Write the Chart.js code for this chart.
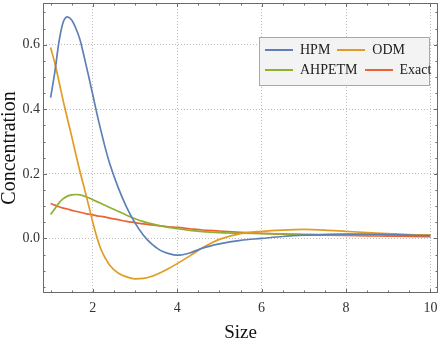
<!DOCTYPE html>
<html>
<head>
<meta charset="utf-8">
<script src="https://cdn.jsdelivr.net/npm/chart.js@4.4.1/dist/chart.umd.min.js"></script>
<style>
  html, body { margin: 0; padding: 0; background: #fff; }
  #wrap { position: relative; width: 442px; height: 343px; }
  #legend {
    position: absolute; left: 259px; top: 37px; width: 169px; height: 47px;
    background: #f3f3f3; border: 1px solid #a8a8a8;
    font-family: 'Liberation Serif', 'Times New Roman', serif; font-size: 14px; color: #222;
  }
  #legend .row { position: absolute; left: 5px; display: flex; align-items: center; height: 16px; }
  #legend .swatch { width: 28px; height: 2px; margin-right: 7px; }
  #legend .label { margin-right: 7px; }
</style>
</head>
<body>
<div id="wrap">
  <canvas id="chart"></canvas>
  <div id="legend"></div>
</div>
<script>
// values
const sizes = [1, 1.1, 1.2, 1.3, 1.4, 1.5, 1.6, 1.7, 1.8, 1.9, 2.0, 2.1, 2.2, 2.3, 2.4, 2.6, 2.8,
  3.0, 3.2, 3.4, 3.6, 3.8, 4.0, 4.3, 4.6, 5.0, 5.5, 6.0, 6.5, 7.0, 7.5, 8.0, 8.5, 9.0, 9.5, 10];

const hpm = [0.436, 0.515, 0.610, 0.670, 0.686, 0.676, 0.650, 0.614, 0.560, 0.503, 0.445, 0.385, 0.330,
  0.278, 0.232, 0.158, 0.097, 0.048, 0.010, -0.018, -0.037, -0.047, -0.052, -0.045, -0.030, -0.017,
  -0.006, 0.000, 0.006, 0.010, 0.012, 0.013, 0.013, 0.012, 0.010, 0.0085];

const odm = [0.591, 0.543, 0.485, 0.425, 0.370, 0.316, 0.259, 0.205, 0.155, 0.103, 0.050, 0.002, -0.036,
  -0.062, -0.083, -0.107, -0.119, -0.125, -0.124, -0.117, -0.106, -0.093, -0.078, -0.054, -0.029, -0.003,
  0.015, 0.022, 0.026, 0.028, 0.026, 0.022, 0.018, 0.015, 0.012, 0.0105];

const ahpetm = [0.074, 0.092, 0.110, 0.123, 0.131, 0.135, 0.136, 0.135, 0.131, 0.126, 0.120, 0.114, 0.108,
  0.102, 0.096, 0.084, 0.072, 0.061, 0.052, 0.045, 0.039, 0.034, 0.030, 0.025, 0.021, 0.018,
  0.016, 0.015, 0.014, 0.013, 0.012, 0.012, 0.011, 0.011, 0.010, 0.010];

const exact = [0.108, 0.103, 0.098, 0.094, 0.091, 0.087, 0.084, 0.081, 0.078, 0.075, 0.073, 0.070, 0.068,
  0.066, 0.063, 0.058, 0.053, 0.049, 0.045, 0.042, 0.039, 0.036, 0.034, 0.030, 0.026, 0.023,
  0.019, 0.016, 0.013, 0.011, 0.010, 0.009, 0.008, 0.007, 0.006, 0.0055];

const seriesNames = ['HPM', 'ODM', 'AHPETM', 'Exact'];
const seriesColors = ['#5e81b5', '#e19c24', '#8fb032', '#eb6235'];
const xTicks = [2, 4, 6, 8, 10];
const yTicks = [0.0, 0.2, 0.4, 0.6];

const serif = "'Liberation Serif', 'Times New Roman', serif";

const toPoints = arr => sizes.map((x, i) => ({ x: x, y: arr[i] }));

const datasets = [hpm, odm, ahpetm, exact].map((arr, i) => ({
  label: seriesNames[i],
  data: toPoints(arr),
  borderColor: seriesColors[i],
  borderWidth: 1.7,
  pointRadius: 0,
  fill: false,
  cubicInterpolationMode: 'monotone'
}));

// Mathematica-style frame with inward ticks on all four sides
const frameTicks = {
  id: 'frameTicks',
  afterDatasetsDraw(chart) {
    const { ctx, chartArea: a, scales: { x, y } } = chart;
    ctx.save();
    ctx.strokeStyle = '#6a6a6a';
    ctx.lineWidth = 1;
    ctx.strokeRect(a.left + 0.5, a.top + 0.5, a.right - a.left - 1, a.bottom - a.top - 1);
    ctx.beginPath();
    // minor ticks every 0.5 on x, every 0.05 on y
    for (let i = 2; i <= 20; i++) {
      const v = i / 2;
      const len = v % 2 === 0 ? 4 : 2.5;
      const px = Math.round(x.getPixelForValue(v)) + 0.5;
      ctx.moveTo(px, a.bottom); ctx.lineTo(px, a.bottom - len);
      ctx.moveTo(px, a.top); ctx.lineTo(px, a.top + len);
    }
    for (let i = -3; i <= 14; i++) {
      const v = i / 20;
      const len = i % 4 === 0 ? 4 : 2.5;
      const py = Math.round(y.getPixelForValue(v)) + 0.5;
      ctx.moveTo(a.left, py); ctx.lineTo(a.left + len, py);
      ctx.moveTo(a.right, py); ctx.lineTo(a.right - len, py);
    }
    ctx.stroke();
    ctx.restore();
  }
};

new Chart(document.getElementById('chart'), {
  type: 'line',
  data: { datasets: datasets },
  options: {
    responsive: true,
    maintainAspectRatio: false,
    animation: false,
    layout: { padding: { top: 3, right: 4, left: 0, bottom: 0 } },
    plugins: { legend: { display: false }, tooltip: { enabled: false } },
    scales: {
      x: {
        type: 'linear',
        min: 0.82,
        max: 10.18,
        afterBuildTicks: s => { s.ticks = xTicks.map(v => ({ value: v })); },
        afterFit: s => { s.height = 50; s.paddingLeft = 0; s.paddingRight = 0; },
        border: { display: false, dash: [1, 2] },
        grid: { color: '#bdbdbd', lineWidth: 1, drawTicks: false },
        ticks: {
          padding: 7,
          color: '#333',
          font: { family: serif, size: 14 },
          callback: v => String(v)
        },
        title: {
          display: true,
          text: 'Size',
          color: '#111',
          font: { family: serif, size: 19, lineHeight: 1 },
          padding: 0
        }
      },
      y: {
        type: 'linear',
        min: -0.169,
        max: 0.729,
        afterBuildTicks: s => { s.ticks = yTicks.map(v => ({ value: v })); },
        afterFit: s => { s.width = 43; s.paddingTop = 0; s.paddingBottom = 0; },
        border: { display: false, dash: [1, 2] },
        grid: { color: '#bdbdbd', lineWidth: 1, drawTicks: false },
        ticks: {
          padding: 3,
          color: '#333',
          font: { family: serif, size: 14 },
          callback: v => v.toFixed(1)
        },
        title: {
          display: true,
          text: 'Concentration',
          color: '#111',
          font: { family: serif, size: 20, lineHeight: 1 },
          padding: 0
        }
      }
    }
  },
  plugins: [frameTicks]
});

// legend built from the series names/colors
const legend = document.getElementById('legend');
const rows = [[0, 1], [2, 3]];
rows.forEach((idxs, r) => {
  const row = document.createElement('div');
  row.className = 'row';
  row.style.top = (4 + r * 20) + 'px';
  idxs.forEach(i => {
    const sw = document.createElement('span');
    sw.className = 'swatch';
    sw.style.background = seriesColors[i];
    const lb = document.createElement('span');
    lb.className = 'label';
    lb.textContent = seriesNames[i];
    row.appendChild(sw);
    row.appendChild(lb);
  });
  legend.appendChild(row);
});
</script>
</body>
</html>
